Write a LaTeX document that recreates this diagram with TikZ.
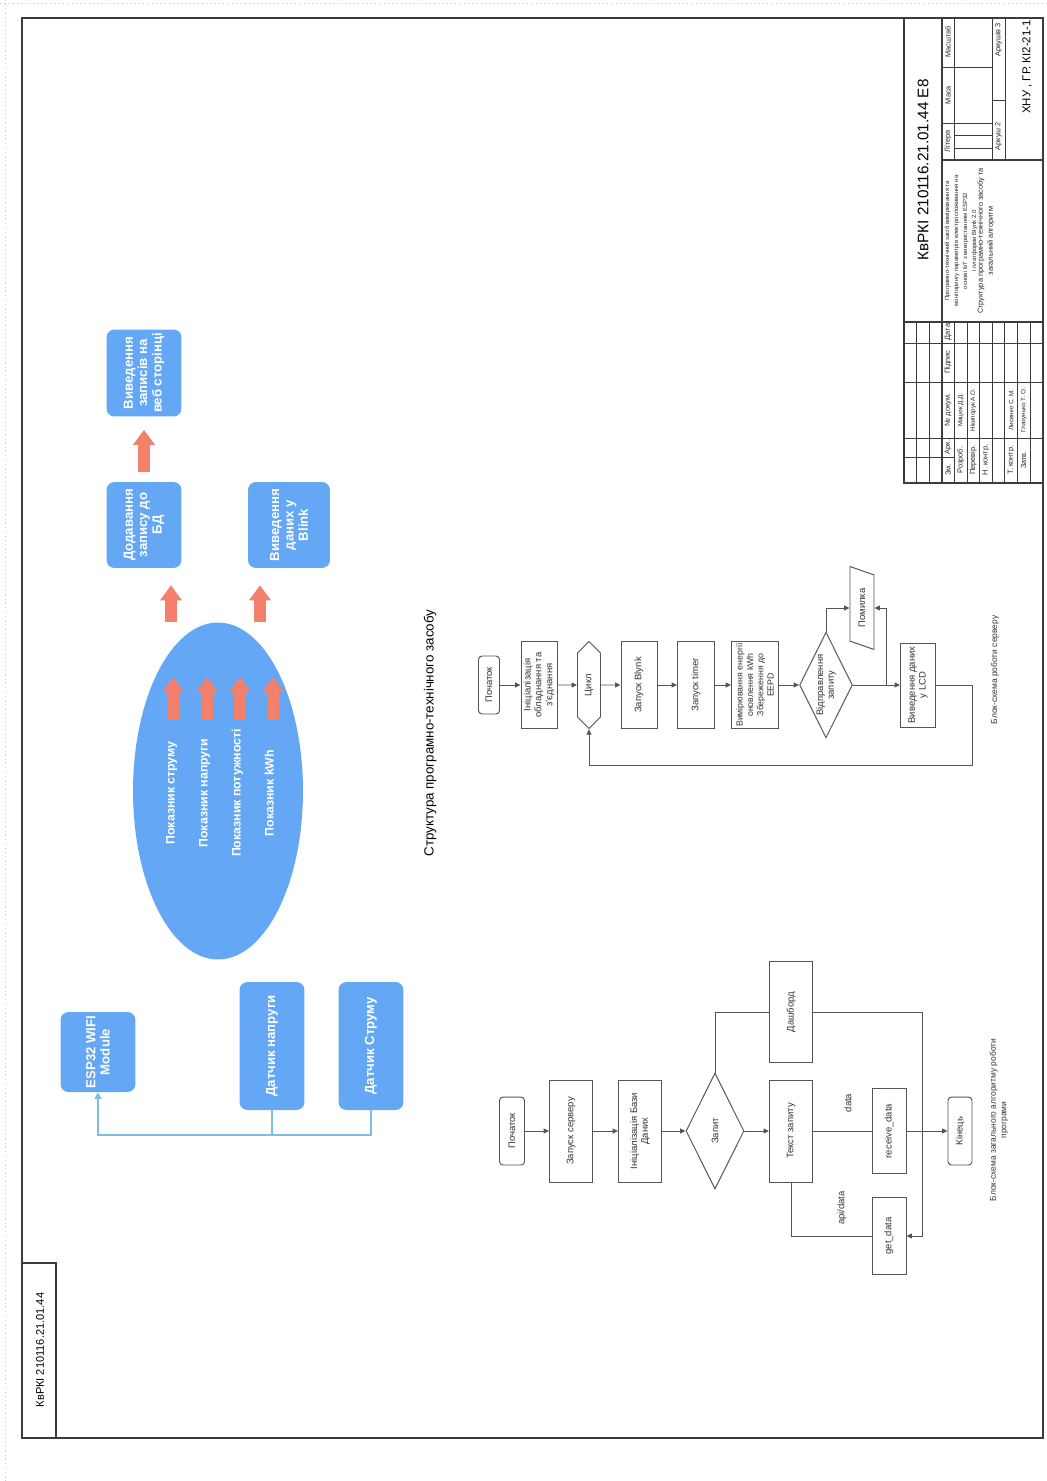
\documentclass[tikz,border=0pt]{standalone}
\usepackage{fontspec}
\setmainfont{Liberation Sans}
\usetikzlibrary{positioning,arrows.meta,calc,shapes.geometric,shapes.symbols}
\definecolor{PanelBlue}{RGB}{100,168,245}
\definecolor{ArrowRed}{RGB}{244,128,108}
\definecolor{LinkBlue}{RGB}{125,190,225}
\definecolor{ChartGrey}{RGB}{85,85,85}
\definecolor{FrameGrey}{RGB}{60,60,60}
\tikzset{
  flow/.style={-{Triangle[length=1.1mm,width=1mm]},draw=ChartGrey,line width=0.55pt},
  flowline/.style={draw=ChartGrey,line width=0.55pt},
  fatarrow/.style={-{Triangle[width=0.42cm,length=0.3cm]},line width=0.24cm,draw=ArrowRed},
  buslink/.style={draw=LinkBlue,line width=0.7pt},
  frameline/.style={draw=FrameGrey,line width=0.6pt},
  gridline/.style={draw=FrameGrey,line width=0.4pt},
  bluebox/.style={rotate=90,fill=PanelBlue,rounded corners=0.16cm,text=white,align=center,
    font=\bfseries\fontsize{7.5}{8.2}\selectfont,inner sep=1pt},
  chartbox/.style={rotate=90,draw=ChartGrey,line width=0.55pt,fill=white,align=center,
    font=\fontsize{5.4}{6.2}\selectfont,text=black!80,inner sep=1pt},
  termbox/.style={chartbox,rounded corners=2pt},
  decide/.style={chartbox,diamond,aspect=2,inner sep=0.5pt},
  loopbox/.style={chartbox,signal,signal to=east and west},
  iobox/.style={chartbox,trapezium,trapezium left angle=62,trapezium right angle=118,
    trapezium stretches=true},
  rottext/.style={rotate=90,inner sep=0pt,align=center},
  flowlabel/.style={rottext,font=\fontsize{5.4}{6.2}\selectfont,text=black!80},
  chartcap/.style={rottext,font=\fontsize{4.8}{6}\selectfont,text=black!80},
  tb/.style={rottext,font=\fontsize{4.2}{5}\selectfont,text=black!85}
}

\begin{document}
\begin{tikzpicture}[x=0.02cm,y=-0.02cm]
  \useasboundingbox (0,0) rectangle (1046,1481);
  \draw[gray!45,dotted] (5,0) -- (5,1481);
  \draw[gray!45,dotted] (0,3) -- (1046,3);

  % sheet frame and title block
  \draw[frameline] (22,18) rectangle (1043,1438);
  \draw[frameline] (22,1263) rectangle (56,1438);
  \node[rottext,font=\fontsize{6.3}{7}\selectfont] (sheetcode) at (40,1350) {КвРКІ 210116.21.01.44};
  \draw[frameline] (904,18) rectangle (1043,483);
  \draw[frameline] (942,18) -- (942,483);
  \foreach \k in {1,2,4,5,6,7,8,9,10}
    \draw[gridline] ({904+12.6*\k},322) -- ({904+12.6*\k},483);
  \draw[frameline] (904,322) -- (1043,322);
  \foreach \y in {343,382,438}
    \draw[gridline] (904,\y) -- (1043,\y);
  \draw[gridline] (904,457) -- (954.4,457);
  \draw[frameline] (942,160) -- (1043,160);
  \draw[gridline] (954.4,18) -- (954.4,160);
  \draw[gridline] (992,18) -- (992,160);
  \draw[gridline] (1005,18) -- (1005,160);
  \draw[gridline] (942,123) -- (992,123);
  \draw[gridline] (942,67) -- (992,67);
  \draw[gridline] (954.4,148) -- (992,148);
  \draw[gridline] (954.4,135.5) -- (992,135.5);
  \draw[gridline] (992,100) -- (1005,100);
  \node[rottext,font=\fontsize{8.7}{10}\selectfont] (docnum) at (923,170) {КвРКІ 210116.21.01.44 Е8};
  \node[tb] (hzm) at (948,470) {Зм.};
  \node[tb] (hark) at (948,447) {Арк.};
  \node[tb] (hdoc) at (948,410) {№ докум.};
  \node[tb] (hsign) at (948,362) {Підпис};
  \node[tb] (hdate) at (948,332) {Дата};
  \node[tb] (rdev) at (960.7,460) {Розроб.};
  \node[tb,font=\fontsize{3.6}{4}\selectfont] (ndev) at (960.7,410) {Мацюк Д.Д.};
  \node[tb] (rchk) at (973.3,460) {Перевір.};
  \node[tb,font=\fontsize{3.6}{4}\selectfont] (nchk) at (973.3,410) {Нікипорук А.О.};
  \node[tb] (rnc) at (985.9,460) {Н. контр.};
  \node[tb] (rtc) at (1011.1,460) {Т. контр.};
  \node[tb,font=\fontsize{3.6}{4}\selectfont] (ntc) at (1011.1,410) {Лисенко С. М.};
  \node[tb] (rapp) at (1023.7,460) {Затв.};
  \node[tb,font=\fontsize{3.6}{4}\selectfont] (napp) at (1023.7,410) {Глазунько Т. О.};
  \node[tb,font=\fontsize{3.4}{5.1}\selectfont] (worktitle) at (961,241)
    {Програмно-технічний засіб вимірювання та\\моніторингу параметрів електроспоживання на\\основі IoT з використанням ESP32\\і платформи Blynk 2.0};
  \node[tb,font=\fontsize{4.2}{5.7}\selectfont] (sheettitle) at (986,241)
    {Структура програмно-технічного засобу та\\загальний алгоритм};
  \node[tb] (hlit) at (948,141) {Літера};
  \node[tb] (hmass) at (948,95) {Маса};
  \node[tb] (hscale) at (948,42) {Масштаб};
  \node[tb] (sheetno) at (998.5,136) {Аркуш 2};
  \node[tb] (sheets) at (998.5,40) {Аркушів 3};
  \node[rottext,font=\fontsize{6.5}{7}\selectfont] (org) at (1027,67) {ХНУ , ГР. КІ2-21-1};

  % structure of the system
  \node[bluebox,minimum width=1.74cm,minimum height=1.5cm] (webout) at (144,373) {Виведення\\записів на\\веб сторінці};
  \node[bluebox,minimum width=1.72cm,minimum height=1.5cm] (adddb) at (144,525) {Додавання\\запису до\\БД};
  \node[bluebox,minimum width=1.72cm,minimum height=1.64cm] (blinkout) at (289,525) {Виведення\\даних у\\Blink};
  \node[ellipse,fill=PanelBlue,minimum width=3.4cm,minimum height=6.74cm,inner sep=0pt] (meter) at (218,791) {};
  \node[rottext,text=white,font=\bfseries\fontsize{7}{18.8}\selectfont] (readings) at (220,793)
    {Показник струму\\Показник напруги\\Показник потужності\\Показник kWh};
  \node[bluebox,minimum width=1.6cm,minimum height=1.5cm] (esp) at (98,1052) {ESP32 WIFI\\Module};
  \node[bluebox,minimum width=2.56cm,minimum height=1.3cm] (volt) at (272,1046) {Датчик напруги};
  \node[bluebox,minimum width=2.56cm,minimum height=1.3cm] (curr) at (371,1046) {Датчик Струму};
  \draw[fatarrow,shorten <=0.2cm,shorten >=0.26cm] (adddb) -- (webout);
  \coordinate (up1) at (171,622);
  \coordinate (up2) at (260,622);
  \draw[fatarrow,shorten >=0.34cm] (up1) -- (up1 |- adddb.west);
  \draw[fatarrow,shorten >=0.34cm] (up2) -- (up2 |- blinkout.west);
  \foreach \x in {173,207,240,273}
    \draw[fatarrow] (\x,720) -- (\x,677);
  \coordinate (bus) at (98,1135);
  \draw[buslink] (volt) -- (volt |- bus);
  \draw[buslink,-{Triangle[length=1.3mm,width=1.4mm]}] (curr) |- (bus) -- (esp);
  \node[rottext,font=\fontsize{7.6}{9}\selectfont] (title) at (430,733) {Структура програмно-технічного засобу};

  % server flowchart
  \node[termbox,minimum width=1.16cm,minimum height=0.42cm] (start1) at (489,685) {Початок};
  \node[chartbox,minimum width=1.74cm,minimum height=0.72cm] (init1) at (539,685) {Ініціалізація\\обладнання та\\з'єднання};
  \node[loopbox,minimum width=1.74cm,minimum height=0.46cm] (cycle) at (589,685) {Цикл};
  \node[chartbox,minimum width=1.74cm,minimum height=0.72cm] (blynk) at (639,685) {Запуск Blynk};
  \node[chartbox,minimum width=1.74cm,minimum height=0.74cm] (timer) at (696,685) {Запуск timer};
  \node[chartbox,minimum width=1.72cm,minimum height=0.94cm,font=\fontsize{5}{5.9}\selectfont] (meas) at (755,685)
    {Вимірювання енергії\\оновлення kWh\\Збереження до\\EEPD};
  \node[decide,minimum width=1.86cm,minimum height=0.96cm] (send) at (826,685) {Відправлення\\запиту};
  \node[iobox,minimum width=1.66cm,minimum height=0.48cm] (err) at (862,608) {Помилка};
  \node[chartbox,minimum width=1.68cm,minimum height=0.7cm] (lcd) at (918,685) {Виведення даних\\у LCD};
  \node[chartcap] (cap1) at (995,670) {Блок-схема роботи серверу};
  \foreach \a/\b in {start1/init1,init1/cycle,cycle/blynk,blynk/timer,timer/meas,meas/send,send/lcd}
    \draw[flow] (\a) -- (\b);
  \coordinate (errjoin) at (886,685);
  \draw[flow] (send) |- (err);
  \draw[flow] (errjoin) |- (err);
  \coordinate (loopturn) at (972,765);
  \draw[flow] (lcd.south) -| (loopturn) -| (cycle.west);

  % program flowchart
  \node[termbox,minimum width=1.36cm,minimum height=0.5cm] (start2) at (512,1131) {Початок};
  \node[chartbox,minimum width=2.04cm,minimum height=0.86cm] (server) at (571,1131) {Запуск серверу};
  \node[chartbox,minimum width=2.04cm,minimum height=0.86cm] (dbinit) at (640,1131) {Ініціалізація Бази\\Даних};
  \node[decide,minimum width=2.32cm,minimum height=1.16cm] (req) at (715,1131) {Запит};
  \node[chartbox,minimum width=2.02cm,minimum height=0.86cm] (dash) at (791,1012) {Дашборд};
  \node[chartbox,minimum width=2.04cm,minimum height=0.86cm] (reqtext) at (791,1131) {Текст запиту};
  \node[chartbox,minimum width=1.7cm,minimum height=0.68cm] (recv) at (889,1131) {receive\_data};
  \node[chartbox,minimum width=1.54cm,minimum height=0.68cm] (getd) at (889,1236) {get\_data};
  \node[termbox,minimum width=1.36cm,minimum height=0.48cm] (fin) at (960,1131) {Кінець};
  \node[flowlabel] (datalbl) at (848,1103) {data};
  \node[flowlabel] (apilbl) at (842,1208) {api/data};
  \node[chartcap] (cap2) at (999,1120) {Блок-схема загального алгоритму роботи\\програми};
  \foreach \a/\b in {start2/server,server/dbinit,dbinit/req,req/reqtext,recv/fin}
    \draw[flow] (\a) -- (\b);
  \draw[flowline] (req) |- (dash);
  \draw[flowline] (reqtext) -- (recv);
  \draw[flowline] (reqtext) |- (getd);
  \coordinate (rjoin) at (922,1131);
  \draw[flow] (dash) -| (rjoin) |- (getd);
\end{tikzpicture}
\end{document}
